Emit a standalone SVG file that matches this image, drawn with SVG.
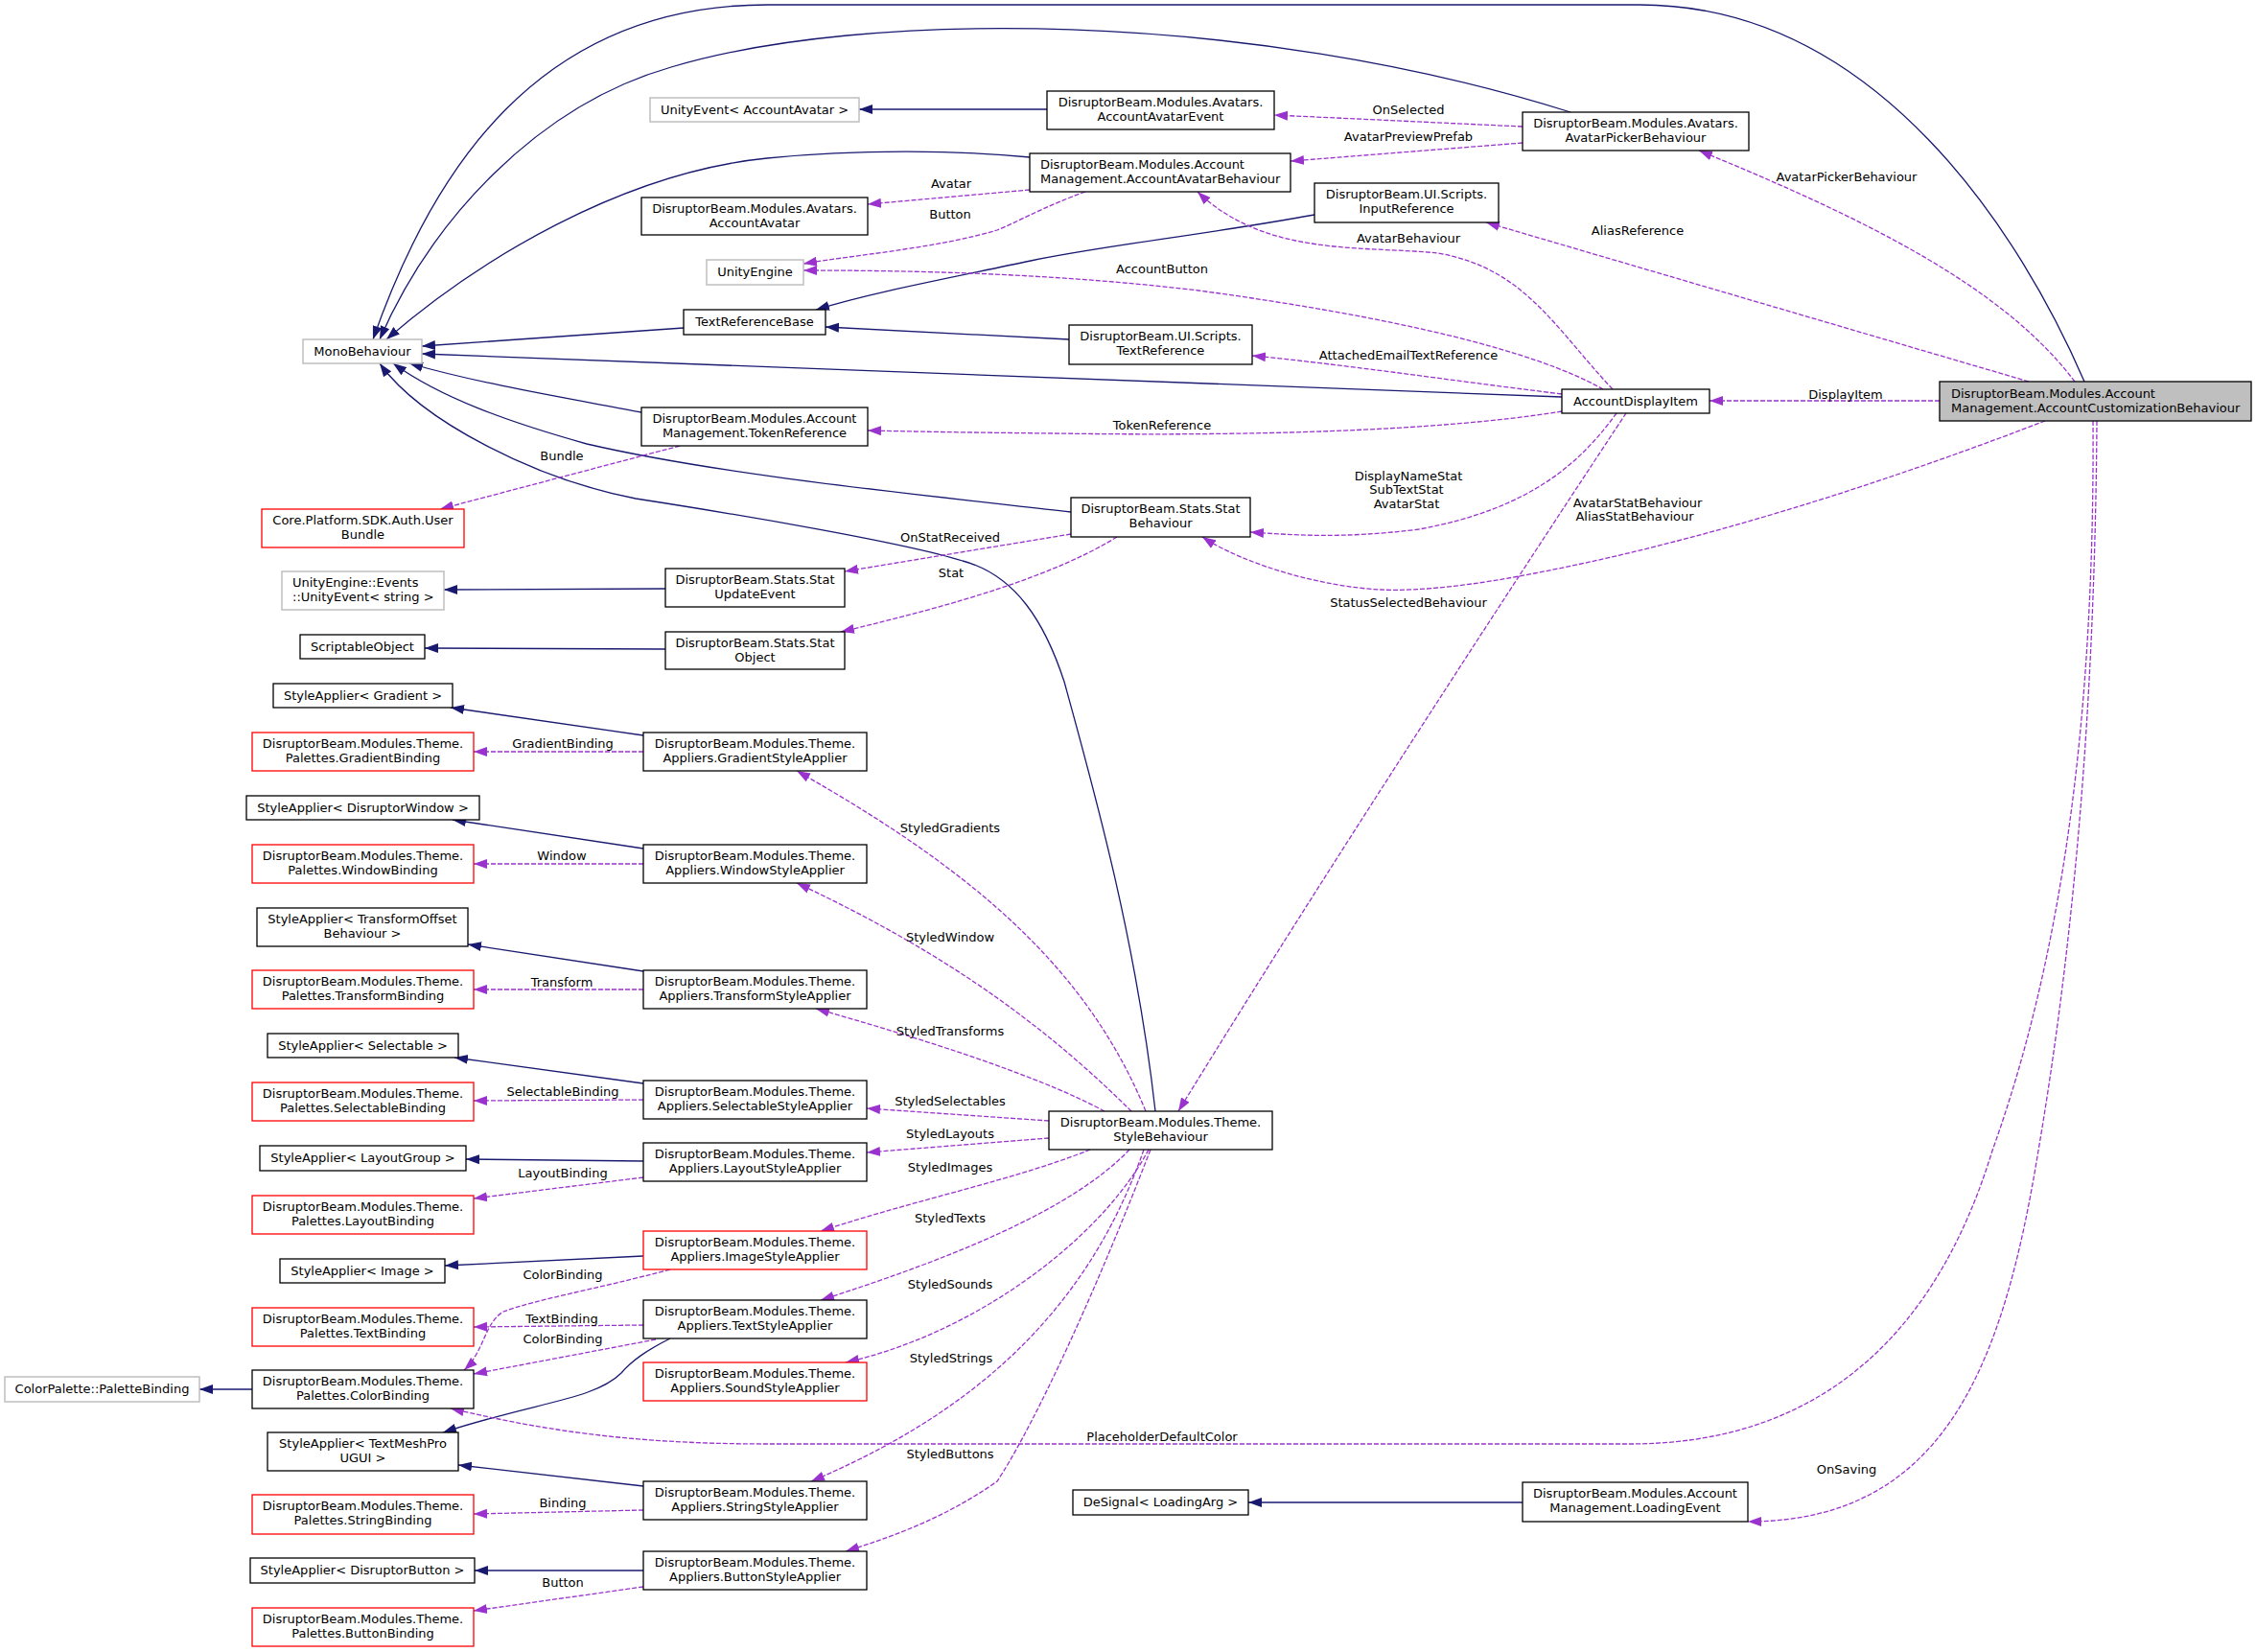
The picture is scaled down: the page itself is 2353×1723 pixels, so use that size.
<svg xmlns="http://www.w3.org/2000/svg" width="2353" height="1723" viewBox="0 0 2353 1723">
<defs>
<style>
.t{font-family:"DejaVu Sans","Liberation Sans",sans-serif;font-size:13px;fill:#000}
.m{text-anchor:middle}
.nb{fill:#fff;stroke:#000;stroke-width:1.3}
.ng{fill:#fff;stroke:#bfbfbf;stroke-width:1.5}
.nr{fill:#fff;stroke:#ff0000;stroke-width:1.3}
.nm{fill:#bfbfbf;stroke:#000;stroke-width:1.3}
.inh{fill:none;stroke:#191970;stroke-width:1.3;marker-end:url(#ab)}
.use{fill:none;stroke:#9a32cd;stroke-width:1.3;stroke-dasharray:5,2;marker-end:url(#ap)}
</style>
<marker id="ab" markerUnits="userSpaceOnUse" markerWidth="14" markerHeight="11" viewBox="0 0 14 11" refX="14" refY="5.5" orient="auto"><path d="M0,0.5 L14,5.5 L0,10.5 z" fill="#191970"/></marker>
<marker id="ap" markerUnits="userSpaceOnUse" markerWidth="14" markerHeight="11" viewBox="0 0 14 11" refX="14" refY="5.5" orient="auto"><path d="M0,0.5 L14,5.5 L0,10.5 z" fill="#9a32cd"/></marker>
</defs>
<rect x="0" y="0" width="2353" height="1723" fill="#fff"/>
<g id="connectors">
<path class="inh" d="M2174,398 C2110,250 1960,5 1710,5 L800,5 C560,5 450,180 389,354"/>
<path class="inh" d="M1638,117 C1300,10 900,10 700,70 C560,110 450,230 396,354"/>
<path class="inh" d="M1074,164 C1000,157 900,155 800,165 C650,180 500,270 403,354"/>
<path class="inh" d="M713,342 L440,361"/>
<path class="inh" d="M1371,224 C1250,246 1150,256 1075,272 C980,292 910,305 851,323"/>
<path class="inh" d="M1115,354 L861,341"/>
<path class="inh" d="M1629,414 L440,369"/>
<path class="inh" d="M669,430 C590,415 500,400 427,379"/>
<path class="inh" d="M1117,534 C950,515 750,495 612,463 C530,440 460,415 410,379"/>
<path class="inh" d="M1205,1159 C1185,980 1140,820 1110,711 C1090,650 1060,600 1004,585 C940,565 760,535 663,520 C560,500 440,440 396,379"/>
<path class="inh" d="M694,614 L463,615"/>
<path class="inh" d="M694,677 L443,676"/>
<path class="inh" d="M1092,114 L896,114"/>
<path class="inh" d="M671,767 L470,738"/>
<path class="inh" d="M671,885 L472,855"/>
<path class="inh" d="M671,1013 L488,985"/>
<path class="inh" d="M671,1130 L474,1103"/>
<path class="inh" d="M671,1211 L486,1209"/>
<path class="inh" d="M671,1310 L464,1320"/>
<path class="inh" d="M699,1396 C675,1408 660,1418 648,1432 C620,1460 560,1462 462,1494"/>
<path class="inh" d="M671,1550 L478,1528"/>
<path class="inh" d="M671,1638 L495,1638"/>
<path class="inh" d="M263,1449 L208,1449"/>
<path class="inh" d="M1588,1567 L1302,1567"/>

<path class="use" d="M2164,398 C2090,300 1950,230 1772,157"/>
<path class="use" d="M2116,398 L1550,232"/>
<path class="use" d="M2023,418 L1783,418"/>
<path class="use" d="M2133,439 C2000,490 1800,560 1600,598 C1540,610 1480,617 1440,615 C1380,612 1300,590 1254,560"/>
<path class="use" d="M1682,406 C1620,340 1590,280 1500,264 C1420,256 1320,268 1249,200"/>
<path class="use" d="M1672,406 C1600,365 1450,330 1250,303 C1100,285 950,282 838,282"/>
<path class="use" d="M1132,200 C1090,215 1060,232 1040,240 C980,258 900,265 838,275"/>
<path class="use" d="M1629,411 C1500,395 1400,380 1306,371"/>
<path class="use" d="M1629,429 C1500,450 1300,455 1100,452 C1000,451 950,450 905,449"/>
<path class="use" d="M1686,431 C1650,480 1600,530 1480,552 C1400,562 1350,558 1304,555"/>
<path class="use" d="M1696,431 C1650,500 1400,880 1229,1159"/>
<path class="use" d="M1588,132 L1329,120"/>
<path class="use" d="M1588,149 L1346,168"/>
<path class="use" d="M1074,198 L905,213"/>
<path class="use" d="M709,465 L459,531"/>
<path class="use" d="M1117,557 L881,596"/>
<path class="use" d="M1165,560 C1100,600 1000,630 877,659"/>
<path class="use" d="M671,784 L494,784"/>
<path class="use" d="M671,901 L494,901"/>
<path class="use" d="M671,1032 L494,1032"/>
<path class="use" d="M671,1147 L494,1148"/>
<path class="use" d="M671,1228 L494,1250"/>
<path class="use" d="M699,1324 C620,1345 560,1355 525,1368 C505,1380 505,1410 484,1429"/>
<path class="use" d="M671,1382 L494,1384"/>
<path class="use" d="M684,1397 L494,1433"/>
<path class="use" d="M671,1575 L494,1579"/>
<path class="use" d="M671,1655 L494,1680"/>
<path class="use" d="M1195,1159 C1130,1000 1000,900 831,804"/>
<path class="use" d="M1180,1159 C1100,1080 1000,1000 831,921"/>
<path class="use" d="M1152,1159 C1080,1120 950,1080 851,1052"/>
<path class="use" d="M1094,1169 L904,1156"/>
<path class="use" d="M1094,1187 L904,1202"/>
<path class="use" d="M1137,1199 C1060,1230 960,1250 856,1284"/>
<path class="use" d="M1178,1199 C1120,1260 1000,1310 856,1356"/>
<path class="use" d="M1198,1199 C1150,1290 1020,1390 882,1421"/>
<path class="use" d="M1193,1199 C1130,1380 1000,1480 846,1545"/>
<path class="use" d="M1200,1199 C1130,1380 1070,1500 1040,1545 C990,1580 940,1600 882,1618"/>
<path class="use" d="M2183,439 C2185,750 2150,1000 2078,1200 C2020,1390 1900,1506 1700,1506 L800,1506 C650,1506 560,1490 470,1469"/>
<path class="use" d="M2187,439 C2185,750 2160,1000 2126,1200 C2090,1420 2030,1587 1823,1587"/>

<g class="t m">
<text x="1469" y="118.5">OnSelected</text>
<text x="1469" y="146.5">AvatarPreviewPrefab</text>
<text x="992" y="195.5">Avatar</text>
<text x="991" y="227.5">Button</text>
<text x="1469" y="252.5">AvatarBehaviour</text>
<text x="1212" y="284.5">AccountButton</text>
<text x="1469" y="374.5">AttachedEmailTextReference</text>
<text x="1212" y="447.5">TokenReference</text>
<text x="1469" y="500.5">DisplayNameStat</text>
<text x="1467" y="515">SubTextStat</text>
<text x="1467" y="529.5">AvatarStat</text>
<text x="991" y="564.5">OnStatReceived</text>
<text x="992" y="601.5">Stat</text>
<text x="586" y="479.5">Bundle</text>
<text x="1926" y="188.5">AvatarPickerBehaviour</text>
<text x="1708" y="244.5">AliasReference</text>
<text x="1925" y="415.5">DisplayItem</text>
<text x="1708" y="528.5">AvatarStatBehaviour</text>
<text x="1705" y="543">AliasStatBehaviour</text>
<text x="1469" y="632.5">StatusSelectedBehaviour</text>
<text x="587" y="779.5">GradientBinding</text>
<text x="586" y="896.5">Window</text>
<text x="586" y="1028.5">Transform</text>
<text x="587" y="1142.5">SelectableBinding</text>
<text x="587" y="1227.5">LayoutBinding</text>
<text x="587" y="1333.5">ColorBinding</text>
<text x="586" y="1379.5">TextBinding</text>
<text x="587" y="1400.5">ColorBinding</text>
<text x="587" y="1571.5">Binding</text>
<text x="587" y="1654.5">Button</text>
<text x="991" y="867.5">StyledGradients</text>
<text x="991" y="981.5">StyledWindow</text>
<text x="991" y="1079.5">StyledTransforms</text>
<text x="991" y="1152.5">StyledSelectables</text>
<text x="991" y="1186.5">StyledLayouts</text>
<text x="991" y="1221.5">StyledImages</text>
<text x="991" y="1274.5">StyledTexts</text>
<text x="991" y="1343.5">StyledSounds</text>
<text x="992" y="1420.5">StyledStrings</text>
<text x="1212" y="1502.5">PlaceholderDefaultColor</text>
<text x="991" y="1520.5">StyledButtons</text>
<text x="1926" y="1536.5">OnSaving</text>
</g>
</g>

<g id="n-main"><rect class="nm" x="2023" y="398" width="325" height="41"/><text class="t" x="2035" y="414.5">DisruptorBeam.Modules.Account</text><text class="t" x="2035" y="429.5">Management.AccountCustomizationBehaviour</text></g>
<g id="n-mono"><rect class="ng" x="316" y="354" width="124" height="25"/><text class="t m" x="378" y="371">MonoBehaviour</text></g>
<g id="n-picker"><rect class="nb" x="1588" y="117" width="236" height="40"/><text class="t m" x="1706" y="133">DisruptorBeam.Modules.Avatars.</text><text class="t m" x="1706" y="148">AvatarPickerBehaviour</text></g>
<g id="n-aae"><rect class="nb" x="1092" y="95" width="237" height="40"/><text class="t m" x="1210.5" y="111">DisruptorBeam.Modules.Avatars.</text><text class="t m" x="1210.5" y="126">AccountAvatarEvent</text></g>
<g id="n-ueaa"><rect class="ng" x="678" y="102" width="218" height="25"/><text class="t m" x="787" y="119">UnityEvent&lt; AccountAvatar &gt;</text></g>
<g id="n-aab"><rect class="nb" x="1074" y="160" width="272" height="40"/><text class="t" x="1085" y="176">DisruptorBeam.Modules.Account</text><text class="t" x="1085" y="191">Management.AccountAvatarBehaviour</text></g>
<g id="n-aa"><rect class="nb" x="669" y="206" width="236" height="39"/><text class="t m" x="787" y="222">DisruptorBeam.Modules.Avatars.</text><text class="t m" x="787" y="237">AccountAvatar</text></g>
<g id="n-inputref"><rect class="nb" x="1371" y="191" width="192" height="41"/><text class="t m" x="1467" y="207">DisruptorBeam.UI.Scripts.</text><text class="t m" x="1467" y="222">InputReference</text></g>
<g id="n-unityengine"><rect class="ng" x="737" y="271" width="101" height="26"/><text class="t m" x="787.5" y="288">UnityEngine</text></g>
<g id="n-trb"><rect class="nb" x="713" y="323" width="148" height="26"/><text class="t m" x="787" y="340">TextReferenceBase</text></g>
<g id="n-textref"><rect class="nb" x="1115" y="339" width="191" height="41"/><text class="t m" x="1210.5" y="355">DisruptorBeam.UI.Scripts.</text><text class="t m" x="1210.5" y="370">TextReference</text></g>
<g id="n-adi"><rect class="nb" x="1629" y="406" width="154" height="25"/><text class="t m" x="1706" y="423">AccountDisplayItem</text></g>
<g id="n-token"><rect class="nb" x="669" y="425" width="236" height="40"/><text class="t m" x="787" y="441">DisruptorBeam.Modules.Account</text><text class="t m" x="787" y="456">Management.TokenReference</text></g>
<g id="n-statbeh"><rect class="nb" x="1117" y="519" width="187" height="41"/><text class="t m" x="1210.5" y="535">DisruptorBeam.Stats.Stat</text><text class="t m" x="1210.5" y="550">Behaviour</text></g>
<g id="n-bundle"><rect class="nr" x="273" y="531" width="211" height="40"/><text class="t m" x="378.5" y="547">Core.Platform.SDK.Auth.User</text><text class="t m" x="378.5" y="562">Bundle</text></g>
<g id="n-uestring"><rect class="ng" x="294" y="596" width="169" height="40"/><text class="t" x="305" y="612">UnityEngine::Events</text><text class="t" x="305" y="627">::UnityEvent&lt; string &gt;</text></g>
<g id="n-statupd"><rect class="nb" x="694" y="593" width="187" height="40"/><text class="t m" x="787.5" y="609">DisruptorBeam.Stats.Stat</text><text class="t m" x="787.5" y="624">UpdateEvent</text></g>
<g id="n-so"><rect class="nb" x="313" y="662" width="130" height="25"/><text class="t m" x="378" y="679">ScriptableObject</text></g>
<g id="n-statobj"><rect class="nb" x="694" y="659" width="187" height="39"/><text class="t m" x="787.5" y="675">DisruptorBeam.Stats.Stat</text><text class="t m" x="787.5" y="690">Object</text></g>
<g id="n-sagrad"><rect class="nb" x="285" y="713" width="187" height="25"/><text class="t m" x="378.5" y="730">StyleApplier&lt; Gradient &gt;</text></g>
<g id="n-gradbind"><rect class="nr" x="263" y="764" width="231" height="40"/><text class="t m" x="378.5" y="780">DisruptorBeam.Modules.Theme.</text><text class="t m" x="378.5" y="795">Palettes.GradientBinding</text></g>
<g id="n-gradsa"><rect class="nb" x="671" y="764" width="233" height="40"/><text class="t m" x="787.5" y="780">DisruptorBeam.Modules.Theme.</text><text class="t m" x="787.5" y="795">Appliers.GradientStyleApplier</text></g>
<g id="n-sawin"><rect class="nb" x="257" y="830" width="243" height="25"/><text class="t m" x="378.5" y="847">StyleApplier&lt; DisruptorWindow &gt;</text></g>
<g id="n-winbind"><rect class="nr" x="263" y="881" width="231" height="40"/><text class="t m" x="378.5" y="897">DisruptorBeam.Modules.Theme.</text><text class="t m" x="378.5" y="912">Palettes.WindowBinding</text></g>
<g id="n-winsa"><rect class="nb" x="671" y="881" width="233" height="40"/><text class="t m" x="787.5" y="897">DisruptorBeam.Modules.Theme.</text><text class="t m" x="787.5" y="912">Appliers.WindowStyleApplier</text></g>
<g id="n-satrans"><rect class="nb" x="268" y="947" width="220" height="40"/><text class="t m" x="378" y="963">StyleApplier&lt; TransformOffset</text><text class="t m" x="378" y="978">Behaviour &gt;</text></g>
<g id="n-transbind"><rect class="nr" x="263" y="1012" width="231" height="40"/><text class="t m" x="378.5" y="1028">DisruptorBeam.Modules.Theme.</text><text class="t m" x="378.5" y="1043">Palettes.TransformBinding</text></g>
<g id="n-transsa"><rect class="nb" x="671" y="1012" width="233" height="40"/><text class="t m" x="787.5" y="1028">DisruptorBeam.Modules.Theme.</text><text class="t m" x="787.5" y="1043">Appliers.TransformStyleApplier</text></g>
<g id="n-sasel"><rect class="nb" x="279" y="1078" width="199" height="25"/><text class="t m" x="378.5" y="1095">StyleApplier&lt; Selectable &gt;</text></g>
<g id="n-selbind"><rect class="nr" x="263" y="1129" width="231" height="40"/><text class="t m" x="378.5" y="1145">DisruptorBeam.Modules.Theme.</text><text class="t m" x="378.5" y="1160">Palettes.SelectableBinding</text></g>
<g id="n-selsa"><rect class="nb" x="671" y="1127" width="233" height="40"/><text class="t m" x="787.5" y="1143">DisruptorBeam.Modules.Theme.</text><text class="t m" x="787.5" y="1158">Appliers.SelectableStyleApplier</text></g>
<g id="n-salayout"><rect class="nb" x="271" y="1195" width="215" height="26"/><text class="t m" x="378.5" y="1212">StyleApplier&lt; LayoutGroup &gt;</text></g>
<g id="n-layoutsa"><rect class="nb" x="671" y="1192" width="233" height="40"/><text class="t m" x="787.5" y="1208">DisruptorBeam.Modules.Theme.</text><text class="t m" x="787.5" y="1223">Appliers.LayoutStyleApplier</text></g>
<g id="n-layoutbind"><rect class="nr" x="263" y="1247" width="231" height="40"/><text class="t m" x="378.5" y="1263">DisruptorBeam.Modules.Theme.</text><text class="t m" x="378.5" y="1278">Palettes.LayoutBinding</text></g>
<g id="n-imagesa"><rect class="nr" x="671" y="1284" width="233" height="40"/><text class="t m" x="787.5" y="1300">DisruptorBeam.Modules.Theme.</text><text class="t m" x="787.5" y="1315">Appliers.ImageStyleApplier</text></g>
<g id="n-saimage"><rect class="nb" x="292" y="1313" width="172" height="25"/><text class="t m" x="378" y="1330">StyleApplier&lt; Image &gt;</text></g>
<g id="n-textbind"><rect class="nr" x="263" y="1364" width="231" height="40"/><text class="t m" x="378.5" y="1380">DisruptorBeam.Modules.Theme.</text><text class="t m" x="378.5" y="1395">Palettes.TextBinding</text></g>
<g id="n-textsa"><rect class="nb" x="671" y="1356" width="233" height="40"/><text class="t m" x="787.5" y="1372">DisruptorBeam.Modules.Theme.</text><text class="t m" x="787.5" y="1387">Appliers.TextStyleApplier</text></g>
<g id="n-colorbind"><rect class="nb" x="263" y="1429" width="231" height="40"/><text class="t m" x="378.5" y="1445">DisruptorBeam.Modules.Theme.</text><text class="t m" x="378.5" y="1460">Palettes.ColorBinding</text></g>
<g id="n-palette"><rect class="ng" x="5" y="1436" width="203" height="26"/><text class="t m" x="106.5" y="1453">ColorPalette::PaletteBinding</text></g>
<g id="n-soundsa"><rect class="nr" x="671" y="1421" width="233" height="40"/><text class="t m" x="787.5" y="1437">DisruptorBeam.Modules.Theme.</text><text class="t m" x="787.5" y="1452">Appliers.SoundStyleApplier</text></g>
<g id="n-satmp"><rect class="nb" x="279" y="1494" width="199" height="40"/><text class="t m" x="378.5" y="1510">StyleApplier&lt; TextMeshPro</text><text class="t m" x="378.5" y="1525">UGUI &gt;</text></g>
<g id="n-stringsa"><rect class="nb" x="671" y="1545" width="233" height="40"/><text class="t m" x="787.5" y="1561">DisruptorBeam.Modules.Theme.</text><text class="t m" x="787.5" y="1576">Appliers.StringStyleApplier</text></g>
<g id="n-stringbind"><rect class="nr" x="263" y="1559" width="231" height="41"/><text class="t m" x="378.5" y="1575">DisruptorBeam.Modules.Theme.</text><text class="t m" x="378.5" y="1590">Palettes.StringBinding</text></g>
<g id="n-sabutton"><rect class="nb" x="261" y="1625" width="234" height="26"/><text class="t m" x="378" y="1642">StyleApplier&lt; DisruptorButton &gt;</text></g>
<g id="n-buttonsa"><rect class="nb" x="671" y="1618" width="233" height="40"/><text class="t m" x="787.5" y="1634">DisruptorBeam.Modules.Theme.</text><text class="t m" x="787.5" y="1649">Appliers.ButtonStyleApplier</text></g>
<g id="n-buttonbind"><rect class="nr" x="263" y="1677" width="231" height="40"/><text class="t m" x="378.5" y="1693">DisruptorBeam.Modules.Theme.</text><text class="t m" x="378.5" y="1708">Palettes.ButtonBinding</text></g>
<g id="n-stylebeh"><rect class="nb" x="1094" y="1159" width="233" height="40"/><text class="t m" x="1210.5" y="1175">DisruptorBeam.Modules.Theme.</text><text class="t m" x="1210.5" y="1190">StyleBehaviour</text></g>
<g id="n-designal"><rect class="nb" x="1119" y="1554" width="183" height="26"/><text class="t m" x="1210.5" y="1571">DeSignal&lt; LoadingArg &gt;</text></g>
<g id="n-loading"><rect class="nb" x="1588" y="1546" width="235" height="41"/><text class="t m" x="1705.5" y="1562">DisruptorBeam.Modules.Account</text><text class="t m" x="1705.5" y="1577">Management.LoadingEvent</text></g>
</svg>
